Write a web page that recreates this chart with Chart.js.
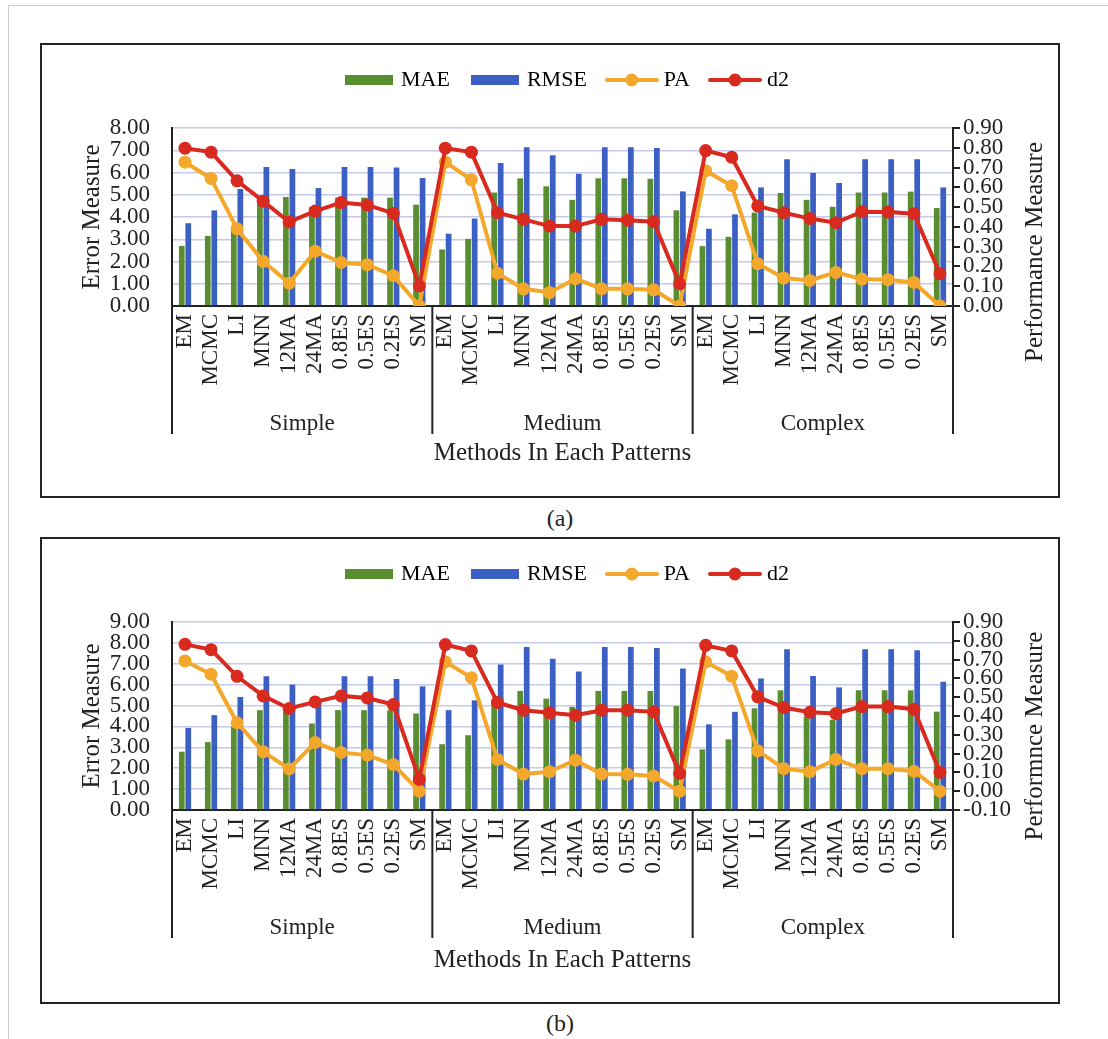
<!DOCTYPE html>
<html lang="en">
<head>
<meta charset="UTF-8">
<title>Methods In Each Patterns</title>
<script src="https://cdn.jsdelivr.net/npm/chart.js"></script>
<style>
  body { margin: 0; background: #fff; font-family: "Liberation Serif", "Times New Roman", serif; color: #222; }
  .frame { position: absolute; left: 8px; top: 5px; width: 1200px; height: 1200px; border-left: 1px solid #cfcfcf; border-top: 1px solid #cfcfcf; }
  .box { position: absolute; left: 40px; width: 1016px; border: 2px solid #222; background: #fff; }
  #boxA { top: 43px; height: 451px; }
  #boxB { top: 537px; height: 463px; }
  .cap { position: absolute; left: 510px; width: 100px; text-align: center; font-size: 24px; }
</style>
</head>
<body>
<div class="frame"></div>
<div class="box" id="boxA"><canvas id="chartA" width="1016" height="451"></canvas></div>
<div class="cap" style="top:505px">(a)</div>
<div class="box" id="boxB"><canvas id="chartB" width="1016" height="463"></canvas></div>
<div class="cap" style="top:1010px">(b)</div>

<script>
// categories
const groups = ['Simple', 'Medium', 'Complex'];
const methods = ['EM', 'MCMC', 'LI', 'MNN', '12MA', '24MA', '0.8ES', '0.5ES', '0.2ES', 'SM'];
const categories = groups.flatMap(() => methods);

// (a) values
const maeA = [2.70, 3.15, 3.60, 4.87, 4.90, 4.45, 4.87, 4.87, 4.87, 4.55,
              2.54, 3.02, 5.10, 5.74, 5.38, 4.77, 5.74, 5.74, 5.72, 4.30,
              2.69, 3.11, 4.20, 5.08, 4.77, 4.46, 5.10, 5.10, 5.14, 4.40];
const rmseA = [3.72, 4.30, 5.26, 6.25, 6.16, 5.30, 6.25, 6.25, 6.22, 5.75,
               3.25, 3.93, 6.43, 7.14, 6.77, 5.94, 7.14, 7.14, 7.10, 5.15,
               3.47, 4.12, 5.33, 6.59, 5.98, 5.53, 6.59, 6.59, 6.59, 5.33];
const paA = [0.727, 0.645, 0.390, 0.226, 0.115, 0.277, 0.220, 0.209, 0.153, 0.000,
             0.727, 0.638, 0.166, 0.087, 0.068, 0.138, 0.087, 0.087, 0.082, 0.000,
             0.684, 0.608, 0.214, 0.141, 0.129, 0.170, 0.136, 0.133, 0.119, 0.000];
const d2A = [0.798, 0.778, 0.633, 0.530, 0.425, 0.480, 0.523, 0.511, 0.469, 0.102,
             0.798, 0.778, 0.472, 0.438, 0.404, 0.404, 0.438, 0.433, 0.426, 0.112,
             0.786, 0.752, 0.506, 0.472, 0.442, 0.421, 0.477, 0.475, 0.467, 0.163];

// (b) values
const maeB = [2.79, 3.25, 3.98, 4.78, 4.70, 4.14, 4.78, 4.78, 4.78, 4.62,
              3.15, 3.58, 5.18, 5.70, 5.33, 4.94, 5.70, 5.70, 5.70, 4.98,
              2.90, 3.38, 4.87, 5.73, 4.48, 4.32, 5.73, 5.73, 5.73, 4.71];
const rmseB = [3.93, 4.54, 5.41, 6.40, 6.00, 5.30, 6.40, 6.40, 6.27, 5.92,
               4.78, 5.25, 6.97, 7.80, 7.24, 6.63, 7.80, 7.80, 7.75, 6.77,
               4.10, 4.70, 6.30, 7.70, 6.41, 5.87, 7.70, 7.70, 7.65, 6.14];
const paB = [0.693, 0.622, 0.364, 0.210, 0.118, 0.259, 0.206, 0.192, 0.142, 0.000,
             0.688, 0.604, 0.169, 0.091, 0.104, 0.165, 0.091, 0.090, 0.081, 0.000,
             0.688, 0.612, 0.215, 0.120, 0.104, 0.169, 0.120, 0.120, 0.106, 0.000];
const d2B = [0.781, 0.753, 0.611, 0.507, 0.440, 0.475, 0.507, 0.496, 0.461, 0.063,
             0.780, 0.746, 0.472, 0.431, 0.417, 0.404, 0.431, 0.431, 0.422, 0.095,
             0.776, 0.746, 0.502, 0.445, 0.420, 0.413, 0.450, 0.450, 0.436, 0.100];

// axis ranges
const errTicksA = { min: 0, max: 8 };
const perfTicksA = { min: 0, max: 0.9 };
const errTicksB = { min: 0, max: 9 };
const perfTicksB = { min: -0.1, max: 0.9 };

const GREEN = '#5a8d30', BLUE = '#3b5fc2', ORANGE = '#f3a82b', RED = '#d82a1e';
Chart.defaults.font.family = '"Liberation Serif", "Times New Roman", serif';
Chart.defaults.font.size = 23;
Chart.defaults.color = '#222';

function legendIcon(color, isLine) {
  const c = document.createElement('canvas');
  c.width = isLine ? 54 : 48;
  c.height = 14;
  const g = c.getContext('2d');
  g.fillStyle = color;
  g.strokeStyle = color;
  if (isLine) {
    g.lineWidth = 4;
    g.lineCap = 'round';
    g.beginPath(); g.moveTo(2, 7); g.lineTo(52, 7); g.stroke();
    g.beginPath(); g.arc(27, 7, 6.5, 0, Math.PI * 2); g.fill();
  } else {
    g.fillRect(0, 2, 48, 10);
  }
  return c;
}

// separators between the groups, the right axis title, legend box height
const decor = {
  id: 'decor',
  beforeLayout(chart, args, opts) {
    const lg = chart.legend;
    if (lg && !lg._patched) {
      const fit = lg.fit, draw = lg.draw;
      lg.fit = function () { fit.call(this); this.height = opts.legendHeight; };
      lg.draw = function (a) {
        this.ctx.save(); this.ctx.translate(opts.legendShift, 0);
        draw.call(this, a);
        this.ctx.restore();
      };
      lg._patched = true;
    }
  },
  afterDraw(chart, args, opts) {
    const x = chart.scales.x, g = chart.scales.x2, y1 = chart.scales.y1;
    const area = chart.chartArea, ctx = chart.ctx;
    const half = (x.getPixelForValue(1) - x.getPixelForValue(0)) / 2;
    ctx.save();
    ctx.strokeStyle = '#222';
    ctx.lineWidth = 2;
    for (let i = 0; i <= categories.length; i += methods.length) {
      const px = i < categories.length ? x.getPixelForValue(i) - half : x.getPixelForValue(i - 1) + half;
      ctx.beginPath();
      ctx.moveTo(px, area.bottom);
      ctx.lineTo(px, g.top + opts.depth);
      ctx.stroke();
    }
    ctx.translate(y1.right - 23, (area.top + area.bottom) / 2 + opts.titleShift);
    ctx.rotate(-Math.PI / 2);
    ctx.font = '25px "Liberation Serif", serif';
    ctx.fillStyle = '#222';
    ctx.textAlign = 'center';
    ctx.textBaseline = 'middle';
    ctx.fillText(opts.title, 0, 0);
    ctx.restore();
  }
};

function makeChart(id, mae, rmse, pa, d2, errRange, perfRange, perfTitle, lay) {
  return new Chart(document.getElementById(id), {
    type: 'bar',
    data: {
      labels: categories,
      datasets: [
        { label: 'MAE', data: mae, backgroundColor: GREEN, yAxisID: 'y', order: 2,
          categoryPercentage: 0.5, barPercentage: 0.88 },
        { label: 'RMSE', data: rmse, backgroundColor: BLUE, yAxisID: 'y', order: 2,
          categoryPercentage: 0.5, barPercentage: 0.88 },
        { type: 'line', label: 'PA', data: pa, borderColor: ORANGE, backgroundColor: ORANGE,
          borderWidth: 4, pointRadius: 6.5, pointBorderWidth: 0, pointBackgroundColor: ORANGE,
          yAxisID: 'y1', order: 1 },
        { type: 'line', label: 'd2', data: d2, borderColor: RED, backgroundColor: RED,
          borderWidth: 4, pointRadius: 6.5, pointBorderWidth: 0, pointBackgroundColor: RED,
          yAxisID: 'y1', order: 0 }
      ]
    },
    options: {
      responsive: false,
      animation: false,
      layout: { padding: { left: 31, right: 0, top: 0, bottom: lay.padBottom } },
      plugins: {
        tooltip: { enabled: false },
        legend: {
          position: 'top',
          labels: {
            usePointStyle: true,
            pointStyleWidth: 42,
            padding: 24,
            font: { size: 22 },
            generateLabels: (chart) => chart.data.datasets.map((ds, i) => ({
              text: ds.label,
              datasetIndex: i,
              pointStyle: legendIcon(ds.backgroundColor, ds.type === 'line'),
              fillStyle: ds.backgroundColor,
              strokeStyle: ds.backgroundColor,
              lineWidth: 0,
              hidden: false
            }))
          }
        },
        decor: { legendHeight: 83, legendShift: 3, depth: 28, titleShift: lay.titleShift, title: perfTitle }
      },
      scales: {
        x: {
          offset: true,
          grid: { display: false, drawTicks: false },
          border: { display: true, color: '#222', width: 2 },
          ticks: { autoSkip: false, minRotation: 90, maxRotation: 90, padding: 8 },
          afterFit: (s) => { s.height = 100; }
        },
        x2: {
          type: 'category',
          labels: groups,
          position: 'bottom',
          offset: true,
          grid: { display: false, drawTicks: false },
          border: { display: false },
          ticks: { padding: 4 },
          title: { display: true, text: 'Methods In Each Patterns', font: { size: 25 }, padding: { top: 0, bottom: 4 } },
          afterFit: (s) => { s.height = lay.groupHeight; }
        },
        y: {
          position: 'left',
          min: errRange.min,
          max: errRange.max,
          ticks: { stepSize: 1, autoSkip: false, padding: 22, callback: (v) => v.toFixed(2) },
          grid: { color: '#c6c9e8', lineWidth: 1.5, drawTicks: false },
          border: { display: true, color: '#222', width: 2 },
          title: { display: true, text: 'Error Measure', font: { size: 25 }, padding: { top: 4, bottom: 0 } },
          afterFit: (s) => { s.width = 99; }
        },
        y1: {
          position: 'right',
          min: perfRange.min,
          max: perfRange.max,
          ticks: { stepSize: 0.1, autoSkip: false, padding: 3, callback: (v) => v.toFixed(2) },
          grid: { drawOnChartArea: false, drawTicks: true, tickLength: 7, color: '#222', lineWidth: 2 },
          border: { display: true, color: '#222', width: 2 },
          afterFit: (s) => { s.width = 105; }
        }
      }
    },
    plugins: [decor]
  });
}

makeChart('chartA', maeA, rmseA, paA, d2A, errTicksA, perfTicksA, 'Performance Measure',
  { padBottom: 24, groupHeight: 66, titleShift: 35 });
makeChart('chartB', maeB, rmseB, paB, d2B, errTicksB, perfTicksB, 'Performnce Measure',
  { padBottom: 23, groupHeight: 69, titleShift: 20 });
</script>
</body>
</html>
